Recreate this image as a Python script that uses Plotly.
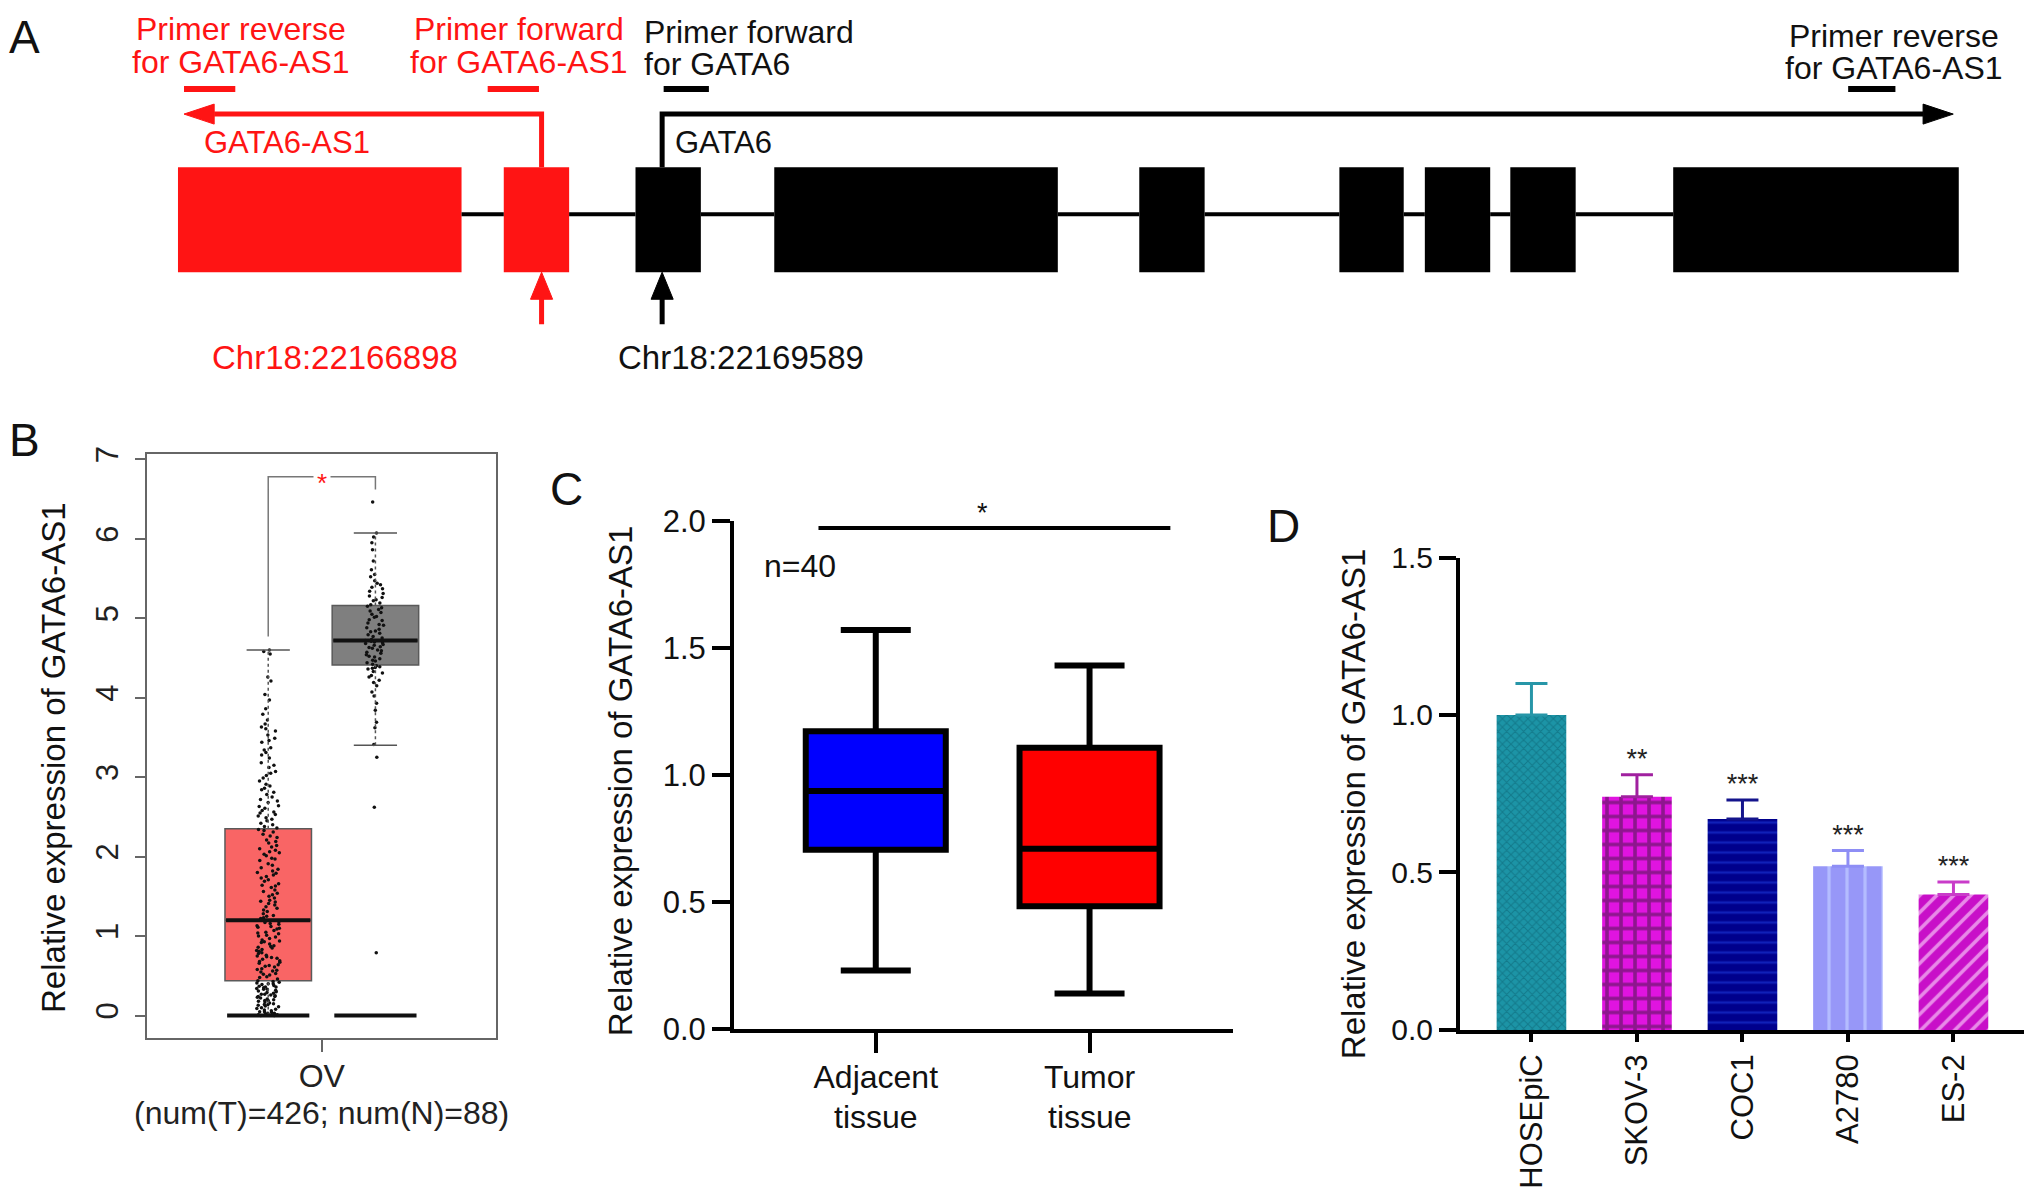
import plotly.graph_objects as go

W, H = 2032, 1203
FONT = "Liberation Sans, Arial, Helvetica, sans-serif"
RED = "#FF1414"

# ---------------- Panel A: gene diagram data (diagram units along the locus) ----------------
exon_start = [182, 506, 637, 775, 1138, 1337, 1422, 1507, 1669]
exon_end = [464, 571, 702, 1057, 1203, 1401, 1487, 1572, 1953]
exon_gene = ["AS1", "AS1", "GATA6", "GATA6", "GATA6", "GATA6", "GATA6", "GATA6", "GATA6"]
primer_start = [188, 490, 665, 1843]
primer_end = [239, 541, 710, 1890]
primer_gene = ["AS1", "AS1", "GATA6", "GATA6"]
tss = {"AS1": 543.6, "GATA6": 663.5}
transcript_end = {"AS1": 188, "GATA6": 1947.5}
chr_labels = {"AS1": "Chr18:22166898", "GATA6": "Chr18:22169589"}

# ---------------- Panel B: GEPIA box plot ----------------
b_groups = ["Tumor", "Normal"]
b_low = [0.00, 3.40]
b_q1 = [0.44, 4.41]
b_median = [1.20, 4.72]
b_q3 = [2.35, 5.16]
b_high = [4.60, 6.07]
tumor_points = [
    0.00, 0.02, 0.05, 0.03, 0.11, 0.08, 0.14, 0.19, 0.17, 0.23, 0.21, 0.26, 0.29, 0.31,
    0.27, 0.35, 0.33, 0.38, 0.36, 0.41, 0.43, 0.39, 0.12, 0.06, 0.24, 0.32, 0.15, 0.01,
    0.09, 0.28, 0.37, 0.42, 0.18, 0.25, 0.34, 0.44, 0.04, 0.13, 0.22, 0.30, 0.40, 0.20,
    0.00, 0.01, 0.03, 0.07, 0.10, 0.16, 0.19, 0.24, 0.27, 0.33, 0.36, 0.40, 0.05, 0.14,
    0.46, 0.49, 0.53, 0.51, 0.57, 0.55, 0.61, 0.59, 0.64, 0.67, 0.63, 0.71, 0.69, 0.74,
    0.78, 0.76, 0.81, 0.79, 0.85, 0.83, 0.88, 0.92, 0.90, 0.95, 0.97, 1.01, 0.99, 1.04,
    1.07, 1.05, 1.10, 1.13, 1.12, 1.16, 1.18, 1.15, 0.58, 0.73, 0.87, 0.94, 1.09, 0.66,
    0.48, 0.52, 0.62, 0.68, 0.75, 0.82, 0.86, 0.93, 1.00, 1.03, 1.11, 1.17, 0.56, 0.72,
    1.22, 1.25, 1.28, 1.26, 1.33, 1.31, 1.37, 1.41, 1.39, 1.45, 1.48, 1.52, 1.50, 1.56,
    1.61, 1.58, 1.64, 1.69, 1.66, 1.73, 1.77, 1.75, 1.82, 1.86, 1.84, 1.91, 1.95, 1.98,
    2.03, 2.01, 2.08, 2.12, 2.10, 2.17, 2.21, 2.26, 2.24, 2.31, 2.34, 1.44, 1.79, 2.06,
    1.23, 1.35, 1.43, 1.54, 1.63, 1.71, 1.80, 1.89, 1.97, 2.05, 2.14, 2.19, 2.28, 2.33,
    2.38, 2.42, 2.45, 2.49, 2.53, 2.56, 2.61, 2.64, 2.68, 2.72, 2.75, 2.81, 2.86, 2.91,
    2.95, 3.02, 3.07, 3.12, 3.18, 3.24, 3.31, 3.37, 3.44, 3.49, 3.53, 3.58, 3.61, 3.67,
    3.72, 3.79, 3.86, 3.97, 4.04, 4.21, 2.47, 2.58, 2.78, 2.99, 3.28, 4.55, 4.58, 4.60,
    2.36, 2.40, 2.51, 2.55, 2.63, 2.70, 2.84, 2.89, 3.05, 3.15, 3.34, 3.46, 3.63, 4.26,
]
normal_points = [
    0.79, 2.62, 3.25, 3.41, 3.62, 3.69, 3.84, 3.93, 4.02, 4.07, 4.15, 4.19, 4.22, 4.26,
    4.28, 4.31, 4.33, 4.36, 4.37, 4.38, 4.39, 4.40,
    4.42, 4.44, 4.46, 4.47, 4.49, 4.51, 4.52, 4.54, 4.56, 4.57, 4.59, 4.60, 4.62, 4.63,
    4.64, 4.66, 4.67, 4.68, 4.69, 4.70, 4.71, 4.72,
    4.73, 4.75, 4.77, 4.79, 4.81, 4.83, 4.84, 4.86, 4.88, 4.91, 4.92, 4.94, 4.97, 4.98,
    5.01, 5.02, 5.05, 5.07, 5.09, 5.11, 5.13, 5.15,
    5.17, 5.19, 5.22, 5.23, 5.26, 5.28, 5.31, 5.34, 5.37, 5.39, 5.42, 5.44, 5.47, 5.52,
    5.55, 5.61, 5.72, 5.86, 5.95, 6.02, 6.07, 6.46,
]
b_xlabel = ["OV", "(num(T)=426; num(N)=88)"]

# ---------------- Panel C: tissue box plot ----------------
c_cats = [["Adjacent", "tissue"], ["Tumor", "tissue"]]
c_min = [0.23, 0.14]
c_q1 = [0.706, 0.483]
c_med = [0.937, 0.71]
c_q3 = [1.173, 1.108]
c_max = [1.571, 1.432]

# ---------------- Panel D: cell lines bar chart ----------------
d_cells = ["HOSEpiC", "SKOV-3", "COC1", "A2780", "ES-2"]
d_mean = [1.00, 0.74, 0.67, 0.52, 0.43]
d_sd = [0.10, 0.07, 0.06, 0.05, 0.04]
d_sig = ["", "**", "***", "***", "***"]

# ---------------- styles / placement ----------------
# placement helpers: positions are measured on the reference picture and mapped to the page
SX, OX, SY, OY = 0.9945, 5.0, 0.970, 18.0


def px(x):
    return ((x - OX) / SX) / W


def py(y):
    return 1 - ((y - OY) / SY) / H


gene_color = {"AS1": RED, "GATA6": "#000000"}
ROW_TOP, ROW_BOT = 168, 273
ARROW_Y, PRIMER_Y, INTRON_Y, MARK_BOTTOM = 115, 90, 215, 325
HEAD_LEN, HEAD_HALF = 30, 10
UP_LEN, UP_HALF = 27, 11
b_fill = ["#F96565", "#7F7F7F"]
b_width = 0.807
c_fill = ["#0000FF", "#FF0000"]
d_style = [
    dict(bg="#1C94A6", fg="#137A8B", shape="x", size=6, sol=0.3, err="#2796A8"),
    dict(bg="#E014E0", fg="#8E168E", shape="+", size=14, sol=0.45, err="#A0209F"),
    dict(bg="#00008C", fg="#1020B8", shape="-", size=10, sol=0.25, err="#14148C"),
    dict(bg="#9797F8", fg="#B4BCFF", shape="|", size=18, sol=0.18, err="#8E8EF5"),
    dict(bg="#C80FC8", fg="#E88AE8", shape="/", size=12, sol=0.3, err="#C93CC9"),
]

fig = go.Figure()
A = dict(xaxis="x4", yaxis="y4", showlegend=False, hoverinfo="skip")

# introns (between consecutive exons)
for i in range(len(exon_start) - 1):
    fig.add_trace(go.Scatter(x=[exon_end[i], exon_start[i + 1]], y=[INTRON_Y, INTRON_Y],
                             mode="lines", line=dict(color="black", width=4), **A))
# exons
fig.add_trace(go.Bar(orientation="h", base=exon_start,
                     x=[e - s for s, e in zip(exon_start, exon_end)],
                     y=[(ROW_TOP + ROW_BOT) / 2] * len(exon_start), width=ROW_BOT - ROW_TOP,
                     marker=dict(color=[gene_color[g] for g in exon_gene], line=dict(width=0)),
                     **A))
# transcription start arrows
for g, sign in (("AS1", -1), ("GATA6", 1)):
    c = gene_color[g]
    t, e = tss[g], transcript_end[g]
    fig.add_trace(go.Scatter(x=[t, t, e - sign * HEAD_LEN], y=[ROW_TOP, ARROW_Y, ARROW_Y],
                             mode="lines", line=dict(color=c, width=5), **A))
    fig.add_trace(go.Scatter(x=[e, e - sign * HEAD_LEN, e - sign * HEAD_LEN, e],
                             y=[ARROW_Y, ARROW_Y - HEAD_HALF, ARROW_Y + HEAD_HALF, ARROW_Y],
                             mode="lines", fill="toself", fillcolor=c, line=dict(color=c, width=1), **A))
    # position markers below
    fig.add_trace(go.Scatter(x=[t, t], y=[MARK_BOTTOM, ROW_BOT + UP_LEN - 2],
                             mode="lines", line=dict(color=c, width=5), **A))
    fig.add_trace(go.Scatter(x=[t, t - UP_HALF, t + UP_HALF, t],
                             y=[ROW_BOT, ROW_BOT + UP_LEN, ROW_BOT + UP_LEN, ROW_BOT],
                             mode="lines", fill="toself", fillcolor=c, line=dict(color=c, width=1), **A))
# primers
for s, e, g in zip(primer_start, primer_end, primer_gene):
    fig.add_trace(go.Scatter(x=[s, e], y=[PRIMER_Y, PRIMER_Y], mode="lines",
                             line=dict(color=gene_color[g], width=6), **A))

annotations = []


def a_text(x, y, text, color, size=31, xanchor="center"):
    annotations.append(dict(x=x, y=y, xref="x4", yref="y4", text=text, showarrow=False,
                            font=dict(family=FONT, size=size, color=color),
                            xanchor=xanchor, yanchor="middle"))


# primer labels, one line at a time
a_text(245, 29.5, "Primer reverse", RED, size=32)
a_text(245, 63, "for GATA6-AS1", RED, size=32)
a_text(521, 29.5, "Primer forward", RED, size=32)
a_text(521, 63, "for GATA6-AS1", RED, size=32)
a_text(643, 33, "Primer forward", "#111", size=32, xanchor="left")
a_text(643, 65, "for GATA6", "#111", size=32, xanchor="left")
a_text(1889, 36.5, "Primer reverse", "#111", size=32)
a_text(1889, 68.5, "for GATA6-AS1", "#111", size=32)
a_text(290, 143, "GATA6-AS1", RED, size=31)
a_text(725, 143, "GATA6", "#111", size=31)
a_text(338, 358, chr_labels["AS1"], RED, size=33)
a_text(742, 358, chr_labels["GATA6"], "#111", size=33)

# panel letters
for letter, x, y in (("A", 29, 38), ("B", 29, 441), ("C", 568, 490), ("D", 1281, 527)):
    annotations.append(dict(x=px(x), y=py(y), xref="paper", yref="paper", text=letter,
                            showarrow=False, font=dict(family=FONT, size=46, color="#111"),
                            xanchor="center", yanchor="middle"))

# ---------------- Panel B traces ----------------
Bk = dict(xaxis="x", yaxis="y", showlegend=False, hoverinfo="skip")
for i in range(2):
    fig.add_trace(go.Box(x=[i], q1=[b_q1[i]], median=[b_median[i]], q3=[b_q3[i]],
                         lowerfence=[b_q1[i]], upperfence=[b_q3[i]], width=b_width,
                         fillcolor=b_fill[i], line=dict(color="#5a5a5a", width=1.5),
                         whiskerwidth=0, boxpoints=False, **Bk))
for i, pts in enumerate([tumor_points, normal_points]):
    fig.add_trace(go.Box(y=pts, x0=i, width=b_width, boxpoints="all", jitter=0.27, pointpos=0,
                         fillcolor="rgba(0,0,0,0)", line=dict(color="rgba(0,0,0,0)", width=0),
                         whiskerwidth=0, marker=dict(color="#111", size=3.5),
                         xaxis="x", yaxis="y", showlegend=False, hoverinfo="skip"))
for i in range(2):
    for y0, y1 in ((b_q3[i], b_high[i]), (b_low[i], b_q1[i])):
        fig.add_trace(go.Scatter(x=[i, i], y=[y0, y1], mode="lines",
                                 line=dict(color="#555", width=1.5, dash="3px,3px"), **Bk))
    for yc in (b_low[i], b_high[i]):
        fig.add_trace(go.Scatter(x=[i - b_width / 4, i + b_width / 4], y=[yc, yc], mode="lines",
                                 line=dict(color="#555", width=1.5), **Bk))
    fig.add_trace(go.Scatter(x=[i - b_width / 2 + 0.02, i + b_width / 2 - 0.02], y=[0, 0], mode="lines",
                             line=dict(color="#111", width=4), **Bk))
    fig.add_trace(go.Scatter(x=[i - b_width / 2 + 0.01, i + b_width / 2 - 0.01],
                             y=[b_median[i], b_median[i]], mode="lines",
                             line=dict(color="#111", width=4), **Bk))
# significance bracket
fig.add_trace(go.Scatter(x=[0, 0, 1, 1], y=[4.77, 6.78, 6.78, 6.62], mode="lines",
                         line=dict(color="#777", width=1.5), **Bk))
annotations.append(dict(x=0.5, y=6.78, xref="x", yref="y", text="*", showarrow=False,
                        font=dict(family=FONT, size=26, color=RED), bgcolor="white",
                        borderpad=3, yshift=-6))
annotations.append(dict(x=0.5, y=py(1112.5), xref="x", yref="paper", text=b_xlabel[1],
                        showarrow=False, font=dict(family=FONT, size=32, color="#222"),
                        xanchor="center", yanchor="middle"))

# ---------------- Panel C traces ----------------
for i in range(2):
    fig.add_trace(go.Box(x=[i], q1=[c_q1[i]], median=[c_med[i]], q3=[c_q3[i]],
                         lowerfence=[c_min[i]], upperfence=[c_max[i]], width=0.655,
                         whiskerwidth=0.5, fillcolor=c_fill[i], line=dict(color="black", width=6),
                         boxpoints=False, xaxis="x2", yaxis="y2", showlegend=False, hoverinfo="skip"))
    annotations.append(dict(x=i, y=py(1116.5), xref="x2", yref="paper", text=c_cats[i][1],
                            showarrow=False, font=dict(family=FONT, size=32, color="#111"),
                            xanchor="center", yanchor="middle"))
fig.add_trace(go.Scatter(x=[-0.268, 1.378], y=[1.973, 1.973], mode="lines", cliponaxis=False,
                         line=dict(color="black", width=4), xaxis="x2", yaxis="y2",
                         showlegend=False, hoverinfo="skip"))
annotations.append(dict(x=0.5, y=2.0, xref="x2", yref="y2", text="*", showarrow=False,
                        font=dict(family=FONT, size=27, color="#111"), yanchor="middle", yshift=8))
annotations.append(dict(x=-0.353, y=1.823, xref="x2", yref="y2", text="n=40", showarrow=False,
                        font=dict(family=FONT, size=32, color="#111"), xanchor="center"))

# ---------------- Panel D traces ----------------
for i, cell in enumerate(d_cells):
    st = d_style[i]
    fig.add_trace(go.Bar(x=[cell], y=[d_mean[i]], width=0.66,
                         marker=dict(color=st["bg"], line=dict(width=0),
                                     pattern=dict(shape=st["shape"], fgcolor=st["fg"], bgcolor=st["bg"],
                                                  size=st["size"], solidity=st["sol"], fillmode="replace")),
                         error_y=dict(type="data", array=[d_sd[i]], arrayminus=[0], symmetric=False,
                                      color=st["err"], thickness=3, width=16),
                         xaxis="x3", yaxis="y3", showlegend=False, hoverinfo="skip"))
fig.add_trace(go.Scatter(x=d_cells, y=[m + s for m, s in zip(d_mean, d_sd)], mode="text",
                         text=d_sig, textposition="top center", cliponaxis=False,
                         textfont=dict(family=FONT, size=27, color="#222"),
                         xaxis="x3", yaxis="y3", showlegend=False, hoverinfo="skip"))

# axis titles
for x, y in ((58, 758), (622, 781), (1351, 804)):
    annotations.append(dict(x=px(x), y=py(y), xref="paper", yref="paper",
                            text="Relative expression of GATA6-AS1", textangle=-90, showarrow=False,
                            font=dict(family=FONT, size=33, color="#111"),
                            xanchor="center", yanchor="middle"))

fig.update_layout(
    width=W, height=H, margin=dict(l=0, r=0, t=0, b=0),
    paper_bgcolor="white", plot_bgcolor="white", barmode="overlay", boxmode="overlay",
    font=dict(family=FONT), showlegend=False, annotations=annotations,
    # Panel B
    xaxis=dict(domain=[px(151.5), px(498.6)], anchor="y", range=[-1.128, 2.128],
               tickvals=[0.5], ticktext=[b_xlabel[0]], showline=True, mirror=True, linecolor="#666",
               linewidth=2, ticks="outside", ticklen=12, tickwidth=2, tickcolor="#666",
               ticklabelstandoff=-4,
               tickfont=dict(family=FONT, size=32, color="#222"), showgrid=False, zeroline=False),
    yaxis=dict(domain=[py(1038.3), py(455)], anchor="x", range=[-0.285, 7.06],
               tickvals=list(range(8)), tickangle=-90, showline=True, mirror=True, linecolor="#666",
               linewidth=2, ticks="outside", ticklen=10, tickwidth=2, tickcolor="#666",
               ticklabelstandoff=5,
               tickfont=dict(family=FONT, size=31, color="#222"), showgrid=False, zeroline=False),
    # Panel C
    xaxis2=dict(domain=[px(735), px(1231)], anchor="y2", range=[-0.663, 1.67],
                tickvals=[0, 1], ticktext=[c[0] for c in c_cats], showline=True, linecolor="black",
                linewidth=4, ticks="outside", ticklen=20, tickwidth=4, tickcolor="black",
                ticklabelstandoff=-3,
                tickfont=dict(family=FONT, size=32, color="#111"),
                showgrid=False, zeroline=False),
    yaxis2=dict(domain=[py(1029), py(521.7)], anchor="x2", range=[0, 2.0], dtick=0.5,
                tickformat=".1f", showline=True, linecolor="black", linewidth=4, ticks="outside",
                ticklen=18, tickwidth=4, tickcolor="black",
                tickfont=dict(family=FONT, size=31, color="#111"), showgrid=False, zeroline=False),
    # Panel D
    xaxis3=dict(domain=[px(1457), px(2018)], anchor="y3", type="category", range=[-0.677, 4.67],
                tickangle=-90, showline=True, linecolor="black", linewidth=4, ticks="outside",
                ticklen=8, tickwidth=4, tickcolor="black",
                tickfont=dict(family=FONT, size=31, color="#111"),
                showgrid=False, zeroline=False),
    yaxis3=dict(domain=[py(1030), py(558)], anchor="x3", range=[0, 1.5], dtick=0.5,
                tickformat=".1f", showline=True, linecolor="black", linewidth=4, ticks="outside",
                ticklen=17, tickwidth=4, tickcolor="black",
                tickfont=dict(family=FONT, size=30, color="#111"), showgrid=False, zeroline=False),
    # Panel A (axis spans the whole figure width / the top strip)
    xaxis4=dict(domain=[0, 1], anchor="y4", range=[OX, SX * W + OX], visible=False),
    yaxis4=dict(domain=[py(400), 1], anchor="x4", range=[400, OY], visible=False),
)

fig.write_html("out.html", config={"displayModeBar": False},
               post_script="document.body.style.margin='0';document.body.style.overflow='hidden';")
